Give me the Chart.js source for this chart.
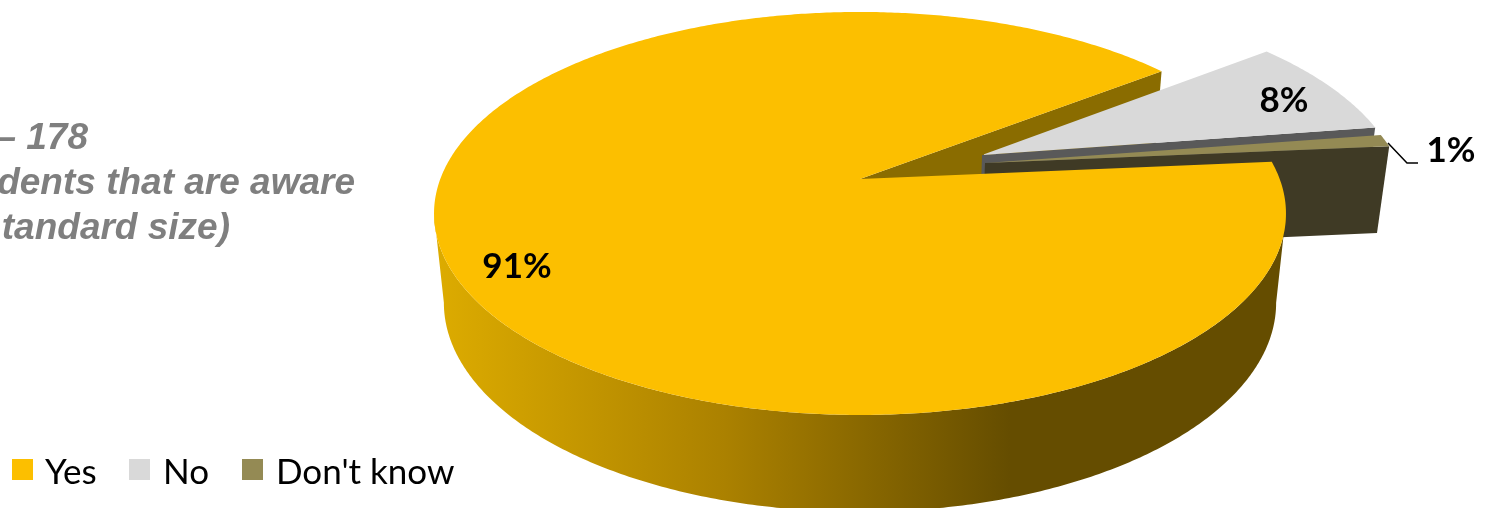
<!DOCTYPE html>
<html>
<head>
<meta charset="utf-8">
<title>Awareness</title>
<style>
  html, body { margin: 0; padding: 0; background: #fff; overflow: hidden; }
  canvas { display: block; }
</style>
<script src="https://cdn.jsdelivr.net/npm/chart.js@4"></script>
</head>
<body>
<canvas id="pieChart" width="1488" height="508"></canvas>
<script>
const categories = ["Yes", "No", "Don't know"];
const shares = [91, 8, 1];
const noteLines = ["– 178", "dents that are aware", "tandard size)"];

const topColors = ["#fcbf00", "#d9d9d9", "#948a54"];
const wallColors = ["#8a6c00", "#595959", "#3f3a25"];

// How far each slice is pulled out of the disc, in disc radii
const pullU = [0, 0.297, 0.302];
const pullV = [0, 0.125, 0.083];

// Tilted disc: same horizontal centre for both faces, lower face a bit narrower
const centerX = 860;
const tilt = 0.171;
const topFace = { y: 179, a: 419.7, b: 195.6 };
const bottomFace = { y: 267, a: 410, b: 203 };

function project(u, v, face) {
    const w = 1 + tilt * v;
    return [centerX + face.a * u / w, face.y - face.b * v / w];
}

function pointOn(index, angle, radius, face) {
    const u = pullU[index] + radius * Math.cos(angle);
    const v = pullV[index] - radius * Math.sin(angle);
    return project(u, v, face);
}

function tracePoints(ctx, points) {
    ctx.beginPath();
    points.forEach((p, i) => i === 0 ? ctx.moveTo(p[0], p[1]) : ctx.lineTo(p[0], p[1]));
    ctx.closePath();
}

function arcPoints(index, from, to, face) {
    const points = [];
    const steps = Math.max(2, Math.ceil(Math.abs(to - from) / 0.01));
    for (let i = 0; i <= steps; i++) {
        points.push(pointOn(index, from + (to - from) * i / steps, 1, face));
    }
    return points;
}

function drawTop(ctx, arc, index) {
    const points = [pointOn(index, 0, 0, topFace)];
    points.push(...arcPoints(index, arc.startAngle, arc.endAngle, topFace));
    tracePoints(ctx, points);
    ctx.fillStyle = topColors[index];
    ctx.fill();
}

// Flat cut face running from the slice centre out to the given edge angle
function drawCutWall(ctx, index, angle) {
    tracePoints(ctx, [
        pointOn(index, angle, 0, topFace),
        pointOn(index, angle, 1, topFace),
        pointOn(index, angle, 1, bottomFace),
        pointOn(index, angle, 0, bottomFace)
    ]);
    ctx.fillStyle = wallColors[index];
    ctx.fill();
}

// Outer wall of the big slice, only the part that faces the viewer
function drawRim(ctx, arc, index) {
    const turn = Math.asin(tilt);
    const from = Math.max(arc.startAngle, turn);
    const to = Math.min(arc.endAngle, Math.PI - turn);
    const points = arcPoints(index, from, to, topFace)
        .concat(arcPoints(index, to, from, bottomFace));
    const shade = ctx.createLinearGradient(440, 0, 1010, 0);
    shade.addColorStop(0, "#dcab00");
    shade.addColorStop(0.5, "#ab8100");
    shade.addColorStop(1, "#654d00");
    tracePoints(ctx, points);
    ctx.fillStyle = shade;
    ctx.fill();
}

function drawText(ctx, text, x, y, font, color, align) {
    ctx.font = font;
    ctx.fillStyle = color;
    ctx.textAlign = align;
    ctx.textBaseline = "alphabetic";
    ctx.fillText(text, x, y);
}

function drawLegend(ctx) {
    const boxX = [12, 129, 242];
    const textX = [45, 163, 276];
    categories.forEach((name, i) => {
        ctx.fillStyle = topColors[i];
        ctx.fillRect(boxX[i], 459, 21, 21);
        drawText(ctx, name, textX[i], 484, "35px Lato, sans-serif", "#000", "left");
    });
}

const tiltedPie = {
    id: "tiltedPie",
    beforeDatasetsDraw(chart) {
        const ctx = chart.ctx;
        const arcs = chart.getDatasetMeta(0).data;
        ctx.save();

        // back to front: the big slice's inner cut, the pulled slices, then the big slice
        drawCutWall(ctx, 0, arcs[0].endAngle);
        drawCutWall(ctx, 1, arcs[1].endAngle);
        drawTop(ctx, arcs[1], 1);
        drawCutWall(ctx, 2, arcs[2].endAngle);
        drawTop(ctx, arcs[2], 2);
        drawRim(ctx, arcs[0], 0);
        drawTop(ctx, arcs[0], 0);

        // leader line of the smallest slice
        ctx.strokeStyle = "#000";
        ctx.lineWidth = 1.5;
        ctx.beginPath();
        ctx.moveTo(1388, 143);
        ctx.lineTo(1407, 163);
        ctx.lineTo(1418, 163);
        ctx.stroke();

        const labelFont = "bold 35px Lato, sans-serif";
        drawText(ctx, shares[0] + "%", 517, 278, labelFont, "#000", "center");
        drawText(ctx, shares[1] + "%", 1284, 112, labelFont, "#000", "center");
        drawText(ctx, shares[2] + "%", 1451, 162, labelFont, "#000", "center");

        const noteFont = "italic bold 37px 'Liberation Sans', sans-serif";
        drawText(ctx, noteLines[0], 88, 149, noteFont, "#7f7f7f", "right");
        drawText(ctx, noteLines[1], 355, 194, noteFont, "#7f7f7f", "right");
        drawText(ctx, noteLines[2], 230, 239, noteFont, "#7f7f7f", "right");

        drawLegend(ctx);

        ctx.restore();
        return false;
    }
};

new Chart(document.getElementById("pieChart"), {
    type: "pie",
    data: {
        labels: categories,
        datasets: [{
            data: shares,
            backgroundColor: topColors,
            borderWidth: 0
        }]
    },
    options: {
        responsive: false,
        animation: false,
        rotation: 84.9,
        plugins: {
            tooltip: { enabled: false },
            legend: { display: false }
        }
    },
    plugins: [tiltedPie]
});
</script>
</body>
</html>
